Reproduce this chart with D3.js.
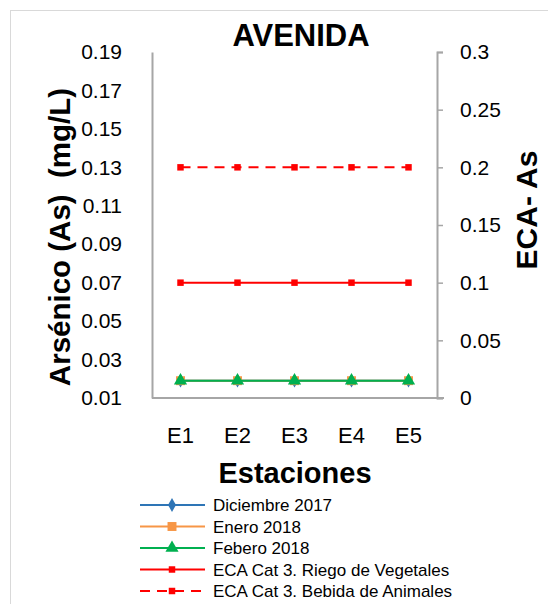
<!DOCTYPE html>
<html><head><meta charset="utf-8">
<script src="https://cdn.jsdelivr.net/npm/d3@7"></script>
<style>body{margin:0;background:#fff}text{font-family:"Liberation Sans",Arial,sans-serif}</style>
</head><body><svg id="c" width="548" height="604"></svg>
<script>
const categories=["E1","E2","E3","E4","E5"];
const dic2017=[0.019,0.019,0.019,0.019,0.019];
const ene2018=[0.019,0.019,0.019,0.019,0.019];
const feb2018=[0.019,0.019,0.019,0.019,0.019];
const ecaRiego=[0.1,0.1,0.1,0.1,0.1];
const ecaBebida=[0.2,0.2,0.2,0.2,0.2];
const leftTicks=[0.01,0.03,0.05,0.07,0.09,0.11,0.13,0.15,0.17,0.19];
const rightTicks=[0,0.05,0.1,0.15,0.2,0.25,0.3];

const series=[
 {name:"Diciembre 2017",values:dic2017,axis:"L",color:"#2e75b6",marker:"diamond",dash:null,w:2},
 {name:"Enero 2018",values:ene2018,axis:"L",color:"#f79646",marker:"square",dash:null,w:2},
 {name:"Febero 2018",values:feb2018,axis:"L",color:"#00b050",marker:"triangle",dash:null,w:2},
 {name:"ECA Cat 3. Riego de Vegetales",values:ecaRiego,axis:"R",color:"#ff0000",marker:"small",dash:null,w:2},
 {name:"ECA Cat 3. Bebida de Animales",values:ecaBebida,axis:"R",color:"#ff0000",marker:"small",dash:"10,7",w:2}
];

const svg=d3.select("#c");
svg.append("rect").attr("x",10.5).attr("y",10.5).attr("width",560).attr("height",620).attr("fill","#fff").attr("stroke","#d9d9d9");

const L=152,R=437,T=52,B=398;
const x=d3.scaleBand().domain(categories).range([L,R]);
const yL=d3.scaleLinear().domain([0.01,0.19]).range([B,T]);
const yR=d3.scaleLinear().domain([0,0.3]).range([B,T]);

const gl=svg.append("g").attr("transform",`translate(${L},0)`).call(d3.axisLeft(yL).tickValues(leftTicks).tickSize(0).tickPadding(30).tickFormat(d3.format(".2f")));
const gr=svg.append("g").attr("transform",`translate(${R},0)`).call(d3.axisRight(yR).tickValues(rightTicks).tickSize(6).tickPadding(17).tickFormat(d=>d===0?"0":String(+d.toFixed(2))));
const gb=svg.append("g").attr("transform",`translate(0,${B})`).call(d3.axisBottom(x).tickSize(0).tickPadding(29));
[gl,gr,gb].forEach(g=>{g.select(".domain").attr("stroke","#a6a6a6").attr("stroke-width",2);
 g.selectAll(".tick line").attr("stroke","#a6a6a6").attr("stroke-width",1.5);
 g.selectAll("text").attr("font-size",21).attr("fill","#000").attr("font-family","'Liberation Sans',Arial,sans-serif");});
gb.selectAll("text").attr("font-size",22);
gb.select(".domain").attr("d",`M${L},0H${R+7}`);

const sym={diamond:d3.symbol(d3.symbolDiamond,55),square:d3.symbol(d3.symbolSquare,80),triangle:d3.symbol(d3.symbolTriangle,75),small:d3.symbol(d3.symbolSquare,42)};
series.forEach(s=>{
 const y=s.axis==="L"?yL:yR;
 const line=d3.line().x((d,i)=>x(categories[i])+x.bandwidth()/2).y(d=>y(d));
 svg.append("path").datum(s.values).attr("d",line).attr("fill","none").attr("stroke",s.color).attr("stroke-width",s.w).attr("stroke-dasharray",s.dash);
 svg.selectAll(null).data(s.values).enter().append("path").attr("d",sym[s.marker])
  .attr("transform",(d,i)=>`translate(${x(categories[i])+x.bandwidth()/2},${y(d)})`).attr("fill",s.color);
});

svg.append("text").attr("x",301).attr("y",46).attr("text-anchor","middle").attr("font-size",31).attr("font-weight","bold").text("AVENIDA");
svg.append("text").attr("transform","translate(70,237) rotate(-90)").attr("text-anchor","middle").attr("font-size",29.5).attr("font-weight","bold").style("white-space","pre").text("Arsénico (As)  (mg/L)");
svg.append("text").attr("transform","translate(537,210) rotate(-90)").attr("text-anchor","middle").attr("font-size",30).attr("font-weight","bold").text("ECA- As");
svg.append("text").attr("x",295).attr("y",483).attr("text-anchor","middle").attr("font-size",29).attr("font-weight","bold").text("Estaciones");

const lg=svg.append("g");
series.forEach((s,i)=>{
 const yy=505+i*21.5;
 lg.append("line").attr("x1",140).attr("x2",205).attr("y1",yy).attr("y2",yy).attr("stroke",s.color).attr("stroke-width",2).attr("stroke-dasharray",s.dash);
 lg.append("path").attr("d",sym[s.marker]).attr("transform",`translate(172,${yy})`).attr("fill",s.color);
 lg.append("text").attr("x",213).attr("y",yy+6).attr("font-size",17).attr("fill","#000").text(s.name);
});
</script></body></html>
